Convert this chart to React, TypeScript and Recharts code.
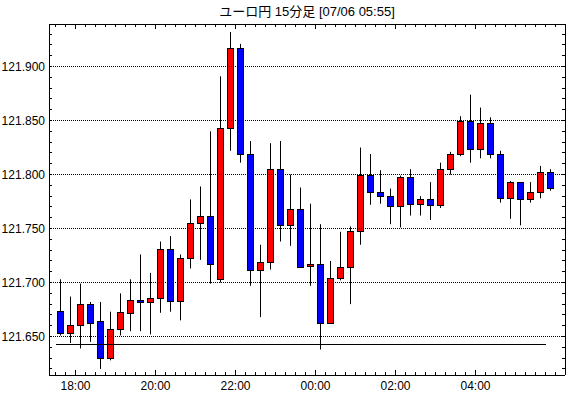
import React from "react";
import {
  ComposedChart,
  XAxis,
  YAxis,
  Bar,
  ReferenceLine,
} from "recharts";

// 15-minute candles, start time of each slot
const times = [
  "17:30", "17:45", "18:00", "18:15", "18:30", "18:45", "19:00", "19:15", "19:30", "19:45",
  "20:00", "20:15", "20:30", "20:45", "21:00", "21:15", "21:30", "21:45", "22:00", "22:15",
  "22:30", "22:45", "23:00", "23:15", "23:30", "23:45", "00:00", "00:15", "00:30", "00:45",
  "01:00", "01:15", "01:30", "01:45", "02:00", "02:15", "02:30", "02:45", "03:00", "03:15",
  "03:30", "03:45", "04:00", "04:15", "04:30", "04:45", "05:00", "05:15", "05:30", "05:45",
];

const opens = [
  121.674, 121.653, 121.661, 121.68, 121.664, 121.63, 121.657, 121.672, 121.684, 121.682,
  121.686, 121.731, 121.683, 121.723, 121.755, 121.762, 121.703, 121.843, 121.917, 121.819,
  121.712, 121.719, 121.805, 121.753, 121.768, 121.715, 121.717, 121.663, 121.704, 121.714,
  121.748, 121.8, 121.784, 121.78, 121.771, 121.798, 121.773, 121.777, 121.772, 121.805,
  121.819, 121.85, 121.824, 121.848, 121.819, 121.778, 121.793, 121.777, 121.784, 121.802,
];
const highs = [
  121.703, 121.687, 121.699, 121.682, 121.682, 121.673, 121.69, 121.703, 121.726, 121.709,
  121.738, 121.743, 121.726, 121.777, 121.789, 121.84, 121.891, 121.932, 121.921, 121.831,
  121.735, 121.829, 121.831, 121.8, 121.788, 121.773, 121.754, 121.72, 121.747, 121.752,
  121.825, 121.819, 121.804, 121.787, 121.799, 121.805, 121.78, 121.793, 121.811, 121.821,
  121.854, 121.874, 121.862, 121.853, 121.822, 121.794, 121.793, 121.793, 121.808, 121.805,
];
const lows = [
  121.651, 121.644, 121.639, 121.645, 121.62, 121.628, 121.651, 121.655, 121.655, 121.652,
  121.672, 121.673, 121.665, 121.713, 121.721, 121.699, 121.7, 121.822, 121.811, 121.697,
  121.668, 121.712, 121.738, 121.734, 121.714, 121.697, 121.638, 121.662, 121.702, 121.68,
  121.735, 121.772, 121.773, 121.754, 121.751, 121.762, 121.762, 121.758, 121.769, 121.8,
  121.817, 121.811, 121.815, 121.815, 121.774, 121.759, 121.753, 121.774, 121.778, 121.785,
];
const closes = [
  121.653, 121.661, 121.68, 121.663, 121.63, 121.657, 121.673, 121.684, 121.682, 121.686,
  121.731, 121.683, 121.723, 121.755, 121.762, 121.717, 121.843, 121.917, 121.819, 121.712,
  121.719, 121.805, 121.753, 121.768, 121.714, 121.717, 121.663, 121.704, 121.714, 121.748,
  121.8, 121.784, 121.78, 121.771, 121.798, 121.773, 121.777, 121.772, 121.805, 121.819,
  121.85, 121.824, 121.848, 121.819, 121.778, 121.793, 121.777, 121.784, 121.802, 121.788,
];

const baseLine = 121.643;
const baseLineFrom = "17:30";
const baseLineTo = "05:45";

const timeLabels = ["18:00", "20:00", "22:00", "00:00", "02:00", "04:00"];
const priceLabels = ["121.650", "121.700", "121.750", "121.800", "121.850", "121.900"];

const title = "ユーロ円 15分足 [07/06 05:55]";

const W = 570;
const H = 398;
const PLOT = { left: 49, top: 24, right: 565, bottom: 375 };
const FONT = "'Liberation Sans', 'Noto Sans CJK JP', sans-serif";

const data = times.map((t, i) => ({
  i,
  time: t,
  open: opens[i],
  high: highs[i],
  low: lows[i],
  close: closes[i],
  range: [lows[i], highs[i]],
}));

// slot borders (15 min), a candle sits in the middle of its slot
const slotTicks = [...times.map((_, i) => i - 0.5), times.length - 0.5];
const majorX = timeLabels.map((t) => times.indexOf(t) - 0.5);

const priceTicks: number[] = [];
for (let k = 0; k <= 31; k++) priceTicks.push(+(121.62 + k * 0.01).toFixed(2));
const gridValues = priceLabels.map(Number);

const Candle = (props: any) => {
  const { x, y, width, height, payload } = props;
  if (!payload) return null;
  const { open, close, high, low } = payload;
  const top = Math.min(y, y + height);
  const h = Math.abs(height);
  const ppu = h / (high - low);
  const cx = Math.floor(x + width / 2) + 0.5;
  const bTop = Math.round(top + (high - Math.max(open, close)) * ppu) + 0.5;
  const bBot = Math.round(top + (high - Math.min(open, close)) * ppu) + 0.5;
  const up = close >= open;
  return (
    <g>
      <line x1={cx} x2={cx} y1={top} y2={top + h} stroke="#000" strokeWidth={1} />
      <rect
        x={cx - 3}
        y={bTop}
        width={6}
        height={Math.max(bBot - bTop, 1)}
        fill={up ? "#ff0000" : "#0000ff"}
        stroke="#000"
        strokeWidth={1}
      />
    </g>
  );
};

const BottomTick = ({ x, payload }: any) => {
  const idx = majorX.indexOf(payload.value);
  const major = idx >= 0;
  return (
    <g>
      <line
        x1={x}
        x2={x}
        y1={PLOT.bottom}
        y2={PLOT.bottom - (major ? 5 : 3)}
        stroke="#000"
        shapeRendering="crispEdges"
      />
      {major && (
        <text x={x} y={PLOT.bottom + 15} textAnchor="middle" fontSize={12} fontFamily={FONT} fill="#000">
          {timeLabels[idx]}
        </text>
      )}
    </g>
  );
};

const TopTick = ({ x, payload }: any) => {
  const major = majorX.includes(payload.value);
  return (
    <line
      x1={x}
      x2={x}
      y1={PLOT.top}
      y2={PLOT.top + (major ? 5 : 3)}
      stroke="#000"
      shapeRendering="crispEdges"
    />
  );
};

const LeftTick = ({ y, payload }: any) => {
  const idx = gridValues.findIndex((v) => Math.abs(v - payload.value) < 1e-6);
  return (
    <g>
      <line x1={PLOT.left} x2={PLOT.left + 3} y1={y} y2={y} stroke="#000" shapeRendering="crispEdges" />
      {idx >= 0 && (
        <text x={PLOT.left - 4} y={y + 4} textAnchor="end" fontSize={12} fontFamily={FONT} fill="#000">
          {priceLabels[idx]}
        </text>
      )}
    </g>
  );
};

const RightTick = ({ y }: any) => (
  <line x1={PLOT.right} x2={PLOT.right - 3} y1={y} y2={y} stroke="#000" shapeRendering="crispEdges" />
);

const xDomain = [-1.15, 50.45];
const yDomain = [121.6144, 121.9394];

export default function App() {
  return (
    <div style={{ position: "absolute", left: 0, top: 0, width: W, height: H, background: "#fff" }}>
      <div
        style={{
          position: "absolute",
          left: PLOT.left,
          width: PLOT.right - PLOT.left,
          top: 4,
          textAlign: "center",
          fontSize: 13,
          fontFamily: FONT,
          lineHeight: "15px",
          color: "#000",
        }}
      >
        {title}
      </div>
      <ComposedChart
        width={W}
        height={H}
        data={data}
        margin={{ top: 0, right: 0, bottom: 0, left: 0 }}
      >
        <XAxis
          dataKey="i"
          type="number"
          domain={xDomain}
          allowDataOverflow
          ticks={slotTicks}
          interval={0}
          tickLine={false}
          tick={<BottomTick />}
          axisLine={{ stroke: "#000", shapeRendering: "crispEdges" }}
          height={H - PLOT.bottom}
        />
        <XAxis
          xAxisId="top"
          orientation="top"
          dataKey="i"
          type="number"
          domain={xDomain}
          allowDataOverflow
          ticks={slotTicks}
          interval={0}
          tickLine={false}
          tick={<TopTick />}
          axisLine={{ stroke: "#000", shapeRendering: "crispEdges" }}
          height={PLOT.top}
        />
        <YAxis
          type="number"
          domain={yDomain}
          allowDataOverflow
          ticks={priceTicks}
          interval={0}
          tickLine={false}
          tick={<LeftTick />}
          axisLine={{ stroke: "#000", shapeRendering: "crispEdges" }}
          width={PLOT.left}
        />
        <YAxis
          yAxisId="right"
          orientation="right"
          type="number"
          domain={yDomain}
          allowDataOverflow
          ticks={priceTicks}
          interval={0}
          tickLine={false}
          tick={<RightTick />}
          axisLine={{ stroke: "#000", shapeRendering: "crispEdges" }}
          width={W - PLOT.right}
        />
        {gridValues.map((v) => (
          <ReferenceLine
            key={v}
            y={v}
            stroke="#000"
            strokeDasharray="1 1"
            shapeRendering="crispEdges"
          />
        ))}
        <ReferenceLine
          segment={[
            { x: times.indexOf(baseLineFrom) - 0.5, y: baseLine },
            { x: times.indexOf(baseLineTo) - 0.5, y: baseLine },
          ]}
          stroke="#000"
          shapeRendering="crispEdges"
        />
        <Bar dataKey="range" barSize={8} shape={<Candle />} isAnimationActive={false} />
      </ComposedChart>
    </div>
  );
}
